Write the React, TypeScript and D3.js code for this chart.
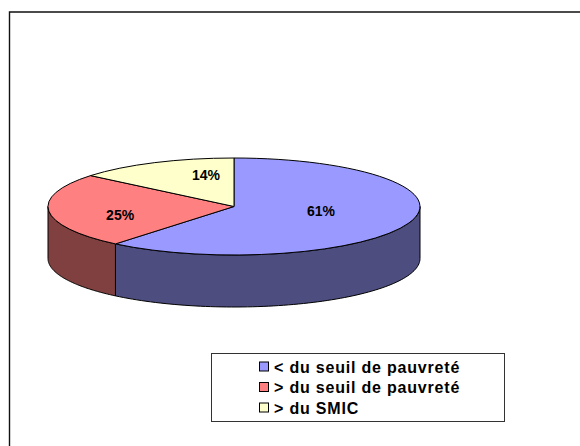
import React from "react";
import * as d3 from "d3";

const categories = ["< du seuil de pauvreté", "> du seuil de pauvreté", "> du SMIC"];
const values = [61, 25, 14];
const topColors = ["#9999ff", "#ff8080", "#ffffcc"];
const sideColors = ["#4d4d80", "#804040", "#808066"];

const W = 580, H = 446;
const cx = 234, cy = 206.5, rx = 186, ry = 48.5, depth = 52;
const font = "Liberation Sans, Arial, sans-serif";
const labelFx = [0.497, 0.615, 0.353];
const labelFy = [0.27, 1.86, 0.72];

const project = (a: number, dy = 0): [number, number] => [
  cx + rx * Math.sin(a),
  cy - ry * Math.cos(a) + dy,
];

const arcsData = d3.pie<number>().sort(null)(values);
const arcUnit = d3.arc<d3.PieArcDatum<number>>().innerRadius(0).outerRadius(1);
const line = d3.line();

const sidePath = (a0: number, a1: number) => {
  const lo = Math.max(a0, Math.PI / 2);
  const hi = Math.min(a1, (3 * Math.PI) / 2);
  if (hi <= lo) return null;
  const n = 80;
  const angles = d3.range(n + 1).map((i) => lo + ((hi - lo) * i) / n);
  const pts = [
    ...angles.map((a) => project(a)),
    ...angles.slice().reverse().map((a) => project(a, depth)),
  ];
  return line(pts) + "Z";
};

const legendY = d3.scalePoint<string>().domain(categories).range([367, 408]);

export default function App() {
  return (
    <svg
      width={W}
      height={H}
      style={{ position: "absolute", left: 0, top: 0, background: "#fff" }}
    >
      <path d={`M9.5,${H}V12H${W}`} fill="none" stroke="#111" strokeWidth={1.4} />
      <g>
        {arcsData.map((d, i) => {
          const p = sidePath(d.startAngle, d.endAngle);
          return p ? <path key={i} d={p} fill={sideColors[i]} stroke="#000" strokeWidth={1} /> : null;
        })}
      </g>
      <g>
        {arcsData.map((d, i) => (
          <path
            key={i}
            d={arcUnit(d) as string}
            transform={`translate(${cx},${cy}) scale(${rx},${ry})`}
            fill={topColors[i]}
            stroke="#000"
            strokeWidth={1}
            vectorEffect="non-scaling-stroke"
          />
        ))}
      </g>
      <g fontFamily={font} fontSize={14} fontWeight="bold" fill="#000" textAnchor="middle">
        {arcsData.map((d, i) => {
          const m = (d.startAngle + d.endAngle) / 2;
          const x = cx + rx * labelFx[i] * Math.sin(m);
          const y = cy - ry * labelFy[i] * Math.cos(m);
          return (
            <text key={i} x={x} y={y + 5}>
              {d.value}%
            </text>
          );
        })}
      </g>
      <rect x={211.5} y={353.5} width={293} height={68} fill="#fff" stroke="#333" strokeWidth={1} />
      <g fontFamily={font} fontSize={16} fontWeight="bold" fill="#000" letterSpacing={0.8}>
        {categories.map((c, i) => (
          <g key={c}>
            <rect x={259.5} y={(legendY(c) as number) - 5} width={9} height={9} fill={topColors[i]} stroke="#000" />
            <text x={274} y={(legendY(c) as number) + 5.5}>{c}</text>
          </g>
        ))}
      </g>
    </svg>
  );
}
